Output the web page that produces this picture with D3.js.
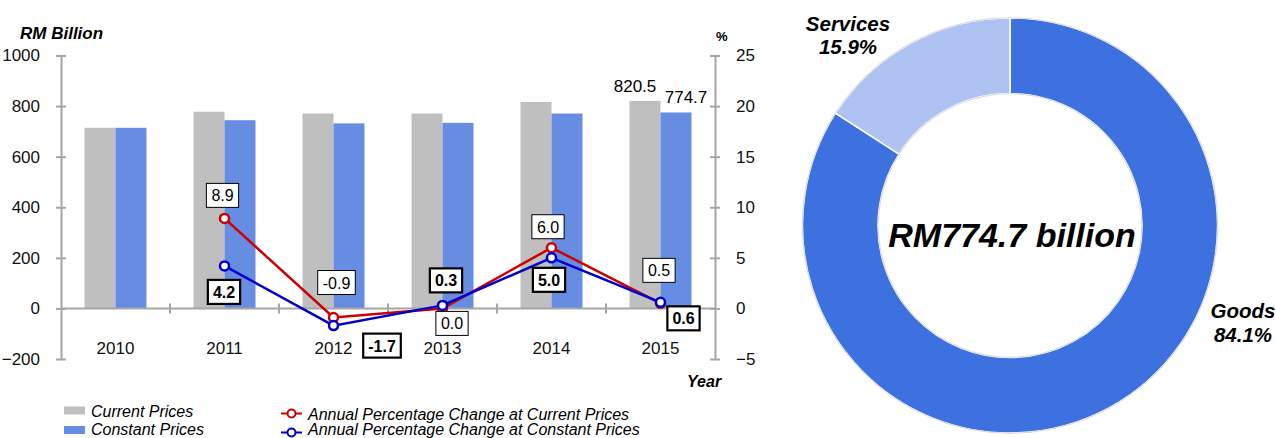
<!DOCTYPE html>
<html><head><meta charset="utf-8">
<script src="https://cdn.jsdelivr.net/npm/d3@7"></script>
<style>
body{margin:0;background:#fff;}
svg{display:block;font-family:"Liberation Sans",Arial,sans-serif;}
</style></head>
<body><svg id="c" width="1276" height="438"></svg>
<script>
// ---- data ----
const years = ["2010","2011","2012","2013","2014","2015"];
const currentPrices = [714.2, 777.6, 770.6, 770.6, 816.4, 820.5];
const constantPrices = [714.2, 744.2, 731.6, 733.8, 770.5, 774.7];
const pctCurrent = [null, 8.9, -0.9, 0.0, 6.0, 0.5];
const pctConstant = [null, 4.2, -1.7, 0.3, 5.0, 0.6];
const leftTicks = [-200, 0, 200, 400, 600, 800, 1000];
const rightTicks = [-5, 0, 5, 10, 15, 20, 25];
const donutLabels = ["Goods", "Services"];
const donutShares = [84.1, 15.9];
const donutTotal = "RM774.7 billion";

// ---- layout (label offsets relative to points) ----
const offCur = [null, [-2,-23], [3,-35], [9.5,15], [-3.5,-21], [-1.5,-33]];
const offCon = [null, [-0.5,26], [48.5,20], [3.5,-25], [-2.5,22], [23,16]];

const svg = d3.select("#c");
const axisCol = "#a6a6a6";
const x = d3.scaleBand().domain(years).range([61, 715]).padding(0);
const bw = x.bandwidth();
const xs = d3.scaleBand().domain(["cur","con"]).range([bw/2 - 31, bw/2 + 31]);
const yL = d3.scaleLinear().domain([-200, 1000]).range([359, 55.5]);
const yR = d3.scaleLinear().domain([-5, 25]).range([359, 55.5]);

// bars
const g = svg.append("g");
years.forEach((yr, i) => {
  g.append("rect").attr("x", x(yr) + xs("cur")).attr("width", xs.bandwidth())
    .attr("y", yL(currentPrices[i])).attr("height", yL(0) - yL(currentPrices[i])).attr("fill", "#bfbfbf");
  g.append("rect").attr("x", x(yr) + xs("con")).attr("width", xs.bandwidth())
    .attr("y", yL(constantPrices[i])).attr("height", yL(0) - yL(constantPrices[i])).attr("fill", "#678de3");
});

// axes
const ax = svg.append("g").attr("transform", "translate(61,0)")
  .call(d3.axisLeft(yL).tickValues(leftTicks).tickFormat(d3.format("d")).tickSizeOuter(0).tickPadding(15));
const ar = svg.append("g").attr("transform", "translate(715,0)")
  .call(d3.axisRight(yR).tickValues(rightTicks).tickFormat(d3.format("d")).tickSizeOuter(0).tickPadding(15));
[ax, ar].forEach(a => {
  a.select(".domain").attr("stroke", axisCol).attr("stroke-width", 2);
  a.selectAll(".tick line").attr("x1", -5).attr("x2", 5).attr("stroke", axisCol).attr("stroke-width", 2);
  a.selectAll(".tick text").attr("font-size", 17).attr("fill", "#111").attr("font-family", "Liberation Sans, Arial, sans-serif");
});
// x axis line at 0
svg.append("line").attr("x1", 61).attr("x2", 715).attr("y1", yL(0)).attr("y2", yL(0))
  .attr("stroke", axisCol).attr("stroke-width", 2);
years.slice(1).forEach(yr => {
  svg.append("line").attr("x1", x(yr)).attr("x2", x(yr)).attr("y1", yL(0) - 5).attr("y2", yL(0) + 5)
    .attr("stroke", axisCol).attr("stroke-width", 2);
});
years.forEach(yr => {
  svg.append("text").attr("x", x(yr) + bw/2).attr("y", 354).attr("text-anchor", "middle")
    .attr("font-size", 17).attr("fill", "#111").text(yr);
});

// axis titles
svg.append("text").attr("x", 20).attr("y", 39).attr("font-size", 17).attr("font-weight", "bold")
  .attr("font-style", "italic").text("RM Billion");
svg.append("text").attr("x", 716).attr("y", 41).attr("font-size", 13).attr("font-weight", "bold").text("%");
svg.append("text").attr("x", 687).attr("y", 387).attr("font-size", 16).attr("font-weight", "bold")
  .attr("font-style", "italic").text("Year");

// bar labels for last year
const li = years.length - 1;
svg.append("text").attr("x", x(years[li]) + xs("cur") + xs.bandwidth()/2 - 10).attr("y", yL(currentPrices[li]) - 8.5)
  .attr("text-anchor", "middle").attr("font-size", 17).text(currentPrices[li].toFixed(1));
svg.append("text").attr("x", x(years[li]) + xs("con") + xs.bandwidth()/2 + 10).attr("y", yL(constantPrices[li]) - 9)
  .attr("text-anchor", "middle").attr("font-size", 17).text(constantPrices[li].toFixed(1));

// lines
function drawLine(vals, color) {
  const pts = years.map((yr, i) => ({x: x(yr) + bw/2, y: vals[i] == null ? null : yR(vals[i]), v: vals[i]}))
    .filter(p => p.v != null);
  svg.append("path").datum(pts).attr("d", d3.line().x(d => d.x).y(d => d.y))
    .attr("fill", "none").attr("stroke", color).attr("stroke-width", 2.5);
  svg.selectAll(null).data(pts).enter().append("circle")
    .attr("cx", d => d.x).attr("cy", d => d.y).attr("r", 4.5)
    .attr("fill", "#fff").attr("stroke", color).attr("stroke-width", 2.5);
  return pts;
}
drawLine(pctCurrent, "#cc0000");
drawLine(pctConstant, "#0000cc");

function labels(vals, offs, bold) {
  years.forEach((yr, i) => {
    if (vals[i] == null) return;
    const cx = x(yr) + bw/2 + offs[i][0];
    const cy = yR(vals[i]) + offs[i][1];
    const lg = svg.append("g");
    const t = lg.append("text").attr("x", cx).attr("y", cy + 6).attr("text-anchor", "middle")
      .attr("font-size", 16).attr("font-weight", bold ? "bold" : "normal").text(vals[i].toFixed(1));
    const w = t.node().getComputedTextLength() + 10;
    lg.insert("rect", "text").attr("x", cx - w/2).attr("y", cy - 12).attr("width", w).attr("height", 24)
      .attr("fill", "#fff").attr("stroke", "#000").attr("stroke-width", bold ? 2.2 : 1);
  });
}
labels(pctCurrent, offCur, false);
labels(pctConstant, offCon, true);

// legend
svg.append("rect").attr("x", 64).attr("y", 406.5).attr("width", 21).attr("height", 8).attr("fill", "#bfbfbf");
svg.append("text").attr("x", 91).attr("y", 416.5).attr("font-size", 16).attr("font-style", "italic").text("Current Prices");
svg.append("rect").attr("x", 64).attr("y", 426).attr("width", 21).attr("height", 8).attr("fill", "#678de3");
svg.append("text").attr("x", 91).attr("y", 434.5).attr("font-size", 16).attr("font-style", "italic").text("Constant Prices");
[["#cc0000", 413.5, "Annual Percentage Change at Current Prices", 419.5], ["#0000cc", 432.5, "Annual Percentage Change at Constant Prices", 434.5]]
  .forEach(([c, yy, txt, ty]) => {
    svg.append("line").attr("x1", 281).attr("x2", 302).attr("y1", yy).attr("y2", yy).attr("stroke", c).attr("stroke-width", 2);
    svg.append("circle").attr("cx", 291.5).attr("cy", yy).attr("r", 4).attr("fill", "#fff").attr("stroke", c).attr("stroke-width", 2);
    svg.append("text").attr("x", 308).attr("y", ty).attr("font-size", 16).attr("font-style", "italic").text(txt);
  });

// donut
const dg = svg.append("g").attr("transform", "translate(1010,225.5)");
const pie = d3.pie().sort(null).value(d => d)(donutShares);
const arc = d3.arc().innerRadius(132).outerRadius(207.5);
const dcol = ["#3e71e0", "#aec3f2"];
dg.selectAll("path").data(pie).enter().append("path").attr("d", arc)
  .attr("fill", (d, i) => dcol[i]).attr("stroke", "#fff").attr("stroke-width", 1.5);
dg.append("circle").attr("r", 207.8).attr("fill", "none").attr("stroke", "#d8d8d8").attr("stroke-width", 1);
dg.append("circle").attr("r", 131.8).attr("fill", "none").attr("stroke", "#d8d8d8").attr("stroke-width", 1);
svg.append("text").attr("x", 1012).attr("y", 247).attr("text-anchor", "middle").attr("font-size", 34)
  .attr("font-weight", "bold").attr("font-style", "italic").text(donutTotal);
svg.append("text").attr("x", 848).attr("y", 31).attr("text-anchor", "middle").attr("font-size", 20.5)
  .attr("font-weight", "bold").attr("font-style", "italic").text(donutLabels[1]);
svg.append("text").attr("x", 848).attr("y", 54).attr("text-anchor", "middle").attr("font-size", 20.5)
  .attr("font-weight", "bold").attr("font-style", "italic").text(donutShares[1].toFixed(1) + "%");
svg.append("text").attr("x", 1243).attr("y", 318).attr("text-anchor", "middle").attr("font-size", 20.5)
  .attr("font-weight", "bold").attr("font-style", "italic").text(donutLabels[0]);
svg.append("text").attr("x", 1243).attr("y", 342).attr("text-anchor", "middle").attr("font-size", 20.5)
  .attr("font-weight", "bold").attr("font-style", "italic").text(donutShares[0].toFixed(1) + "%");
</script></body></html>
